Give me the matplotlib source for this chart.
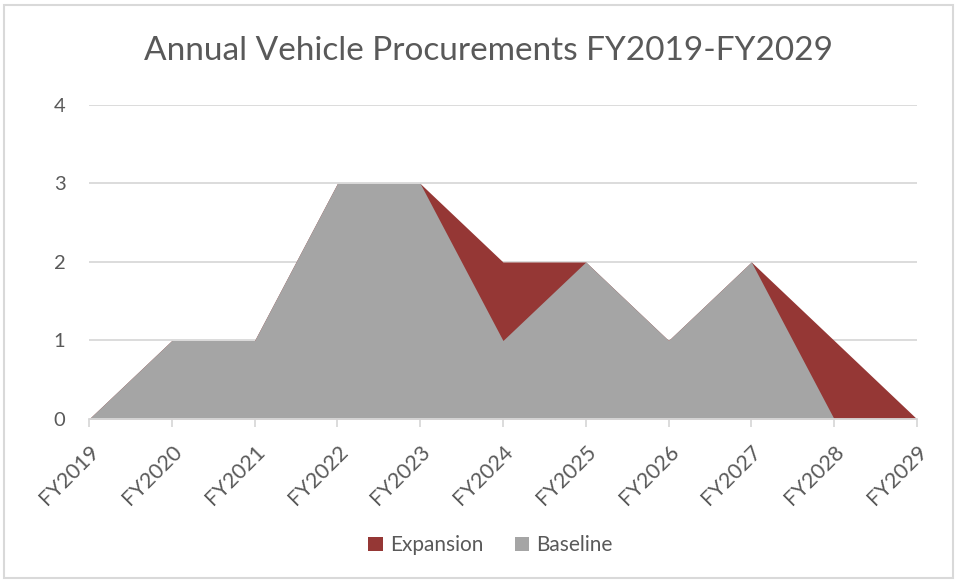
import matplotlib.pyplot as plt
from matplotlib.patches import Patch, Rectangle

years = ["FY2019", "FY2020", "FY2021", "FY2022", "FY2023", "FY2024",
         "FY2025", "FY2026", "FY2027", "FY2028", "FY2029"]
baseline = [0, 1, 1, 3, 3, 1, 2, 1, 2, 0, 0]
expansion = [0, 1, 1, 3, 3, 2, 2, 1, 2, 1, 0]

red = "#953735"
gray = "#a5a5a5"
txt = "#595959"
grid = "#d9d9d9"

plt.rcParams["font.family"] = ["Lato", "DejaVu Sans"]

fig = plt.figure(figsize=(9.56, 5.80), dpi=100)
ax = fig.add_axes([0.0931, 0.2776, 0.866, 0.5414])

x = list(range(len(years)))
# expansion total sits behind the baseline area
ax.fill_between(x, 0, expansion, color=red, linewidth=0, zorder=2)
ax.fill_between(x, 0, baseline, color=gray, linewidth=0, zorder=3)

ax.set_xlim(0, len(years) - 1)
ax.set_ylim(0, 4)
ax.set_yticks([0, 1, 2, 3, 4])
ax.set_xticks(x)
ax.set_xticklabels(years, rotation=45, ha="right", rotation_mode="anchor")
ax.yaxis.grid(True, color=grid, linewidth=1.3, zorder=1)
ax.set_axisbelow(True)

for s in ["top", "right", "left"]:
    ax.spines[s].set_visible(False)
ax.spines["bottom"].set_color(grid)
ax.spines["bottom"].set_linewidth(1.3)
ax.spines["bottom"].set_zorder(4)

ax.tick_params(axis="y", length=0, pad=17, labelsize=14.5, labelcolor=txt)
ax.tick_params(axis="x", length=6, width=1.3, color=grid, pad=10,
               labelsize=15.5, labelcolor=txt)

fig.text(0.5115, 0.912, "Annual Vehicle Procurements FY2019-FY2029",
         ha="center", va="center", fontsize=24, color=txt)

handles = [Patch(facecolor=red, label="Expansion"),
           Patch(facecolor=gray, label="Baseline")]
fig.legend(handles=handles, loc="center", bbox_to_anchor=(0.513, 0.06),
           ncol=2, frameon=False, fontsize=15, labelcolor=txt,
           handlelength=0.7, handleheight=0.7, handletextpad=0.35,
           columnspacing=1.5)

# outer chart border
fig.patches.append(Rectangle((0.004, 0.003), 0.993, 0.988, transform=fig.transFigure,
                             fill=False, edgecolor="#d9d9d9", linewidth=1.5))

fig.savefig("out.png", dpi=100)
